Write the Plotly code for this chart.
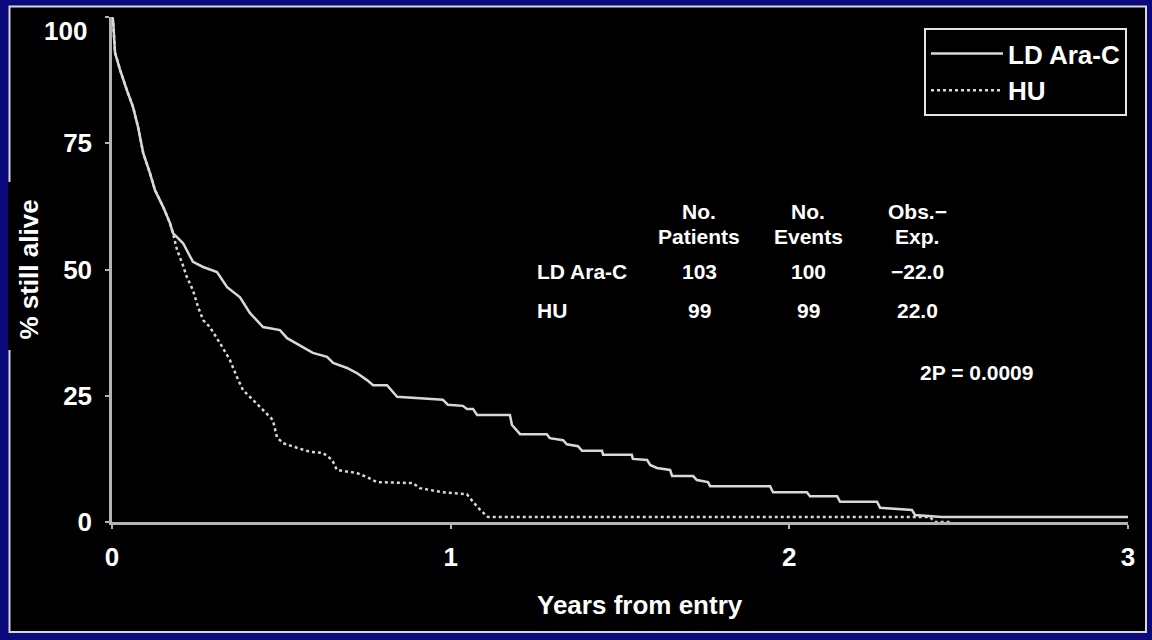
import plotly.graph_objects as go

# Kaplan-Meier style survival curves (years from entry, % still alive)
ld_years = [0.000, 0.003, 0.009, 0.024, 0.044, 0.062, 0.077, 0.092, 0.112, 0.127,
            0.151, 0.171, 0.180, 0.210, 0.239, 0.269, 0.310, 0.340, 0.378, 0.407,
            0.446, 0.496, 0.517, 0.555, 0.593, 0.635, 0.653, 0.694, 0.723, 0.753,
            0.771, 0.812, 0.842, 0.977, 0.992, 1.036, 1.048, 1.066, 1.078, 1.175,
            1.181, 1.205, 1.284, 1.293, 1.332, 1.343, 1.376, 1.388, 1.447, 1.450,
            1.535, 1.538, 1.580, 1.589, 1.609, 1.648, 1.654, 1.716, 1.727, 1.760,
            1.766, 1.943, 1.952, 2.052, 2.061, 2.141, 2.150, 2.259, 2.268, 2.362,
            2.371, 2.450, 3.000]
ld_alive = [100.0, 99.4, 92.9, 89.5, 85.5, 82.2, 78.2, 73.1, 69.1, 65.7,
            62.4, 59.2, 57.2, 55.2, 51.5, 50.5, 49.5, 46.5, 44.5, 41.4,
            38.6, 38.0, 36.4, 35.0, 33.5, 32.7, 31.5, 30.5, 29.5, 28.1,
            27.1, 27.1, 24.8, 24.2, 23.2, 23.0, 22.4, 22.4, 21.2, 21.2,
            19.2, 17.4, 17.4, 16.6, 16.2, 15.4, 15.0, 14.1, 14.1, 13.3,
            13.3, 12.5, 12.3, 11.3, 10.7, 10.3, 9.1, 9.1, 8.3, 7.9,
            7.1, 7.1, 5.9, 5.9, 5.1, 5.1, 4.0, 4.0, 2.8, 2.4,
            1.4, 1.0, 1.0]

hu_years = [0.000, 0.003, 0.009, 0.024, 0.044, 0.062, 0.077, 0.092, 0.112, 0.127,
            0.151, 0.171, 0.180, 0.192, 0.207, 0.221, 0.239, 0.254, 0.269, 0.289,
            0.319, 0.348, 0.369, 0.387, 0.416, 0.446, 0.475, 0.487, 0.505, 0.546,
            0.585, 0.623, 0.650, 0.664, 0.723, 0.753, 0.782, 0.889, 0.909, 0.977,
            1.048, 1.066, 1.087, 1.110, 2.415, 2.430, 2.480]
hu_alive = [100.0, 99.4, 92.9, 89.5, 85.5, 82.2, 78.2, 73.1, 69.1, 65.7,
            62.4, 59.2, 57.2, 53.9, 51.3, 48.5, 45.9, 42.6, 40.0, 38.6,
            35.4, 32.1, 28.7, 26.1, 24.2, 22.2, 20.2, 16.8, 15.6, 14.7,
            13.9, 13.7, 12.3, 10.3, 9.7, 8.9, 7.9, 7.7, 6.7, 5.9,
            5.5, 4.0, 2.4, 1.0, 1.0, 0.0, 0.0]

# Summary table
groups = ["LD Ara-C", "HU"]
n_patients = [103, 99]
n_events = [100, 99]
obs_minus_exp = [-22.0, 22.0]
p_value = "0.0009"

x_ticks = [0, 1, 2, 3]
y_ticks = [0, 25, 50, 75, 100]

W, H = 1152, 640
L, R, T, B = 112, 24, 17, 118
PW, PH = W - L - R, H - T - B

def paper_x(px):
    return (px - L) / PW

def paper_y(py):
    return (H - B - py) / PH

CURVE = "#d8d8d8"
AXIS = "#b4b4b4"
FONT = "Arial, Liberation Sans, sans-serif"
BIG = dict(size=26, color="white", family=FONT, weight="bold")

fig = go.Figure()
fig.add_trace(go.Scatter(x=ld_years, y=ld_alive, mode="lines", name="LD Ara-C",
                         line=dict(color=CURVE, width=2.5)))
fig.add_trace(go.Scatter(x=hu_years, y=hu_alive, mode="lines", name="HU",
                         line=dict(color=CURVE, width=2.5, dash="dot")))

fig.update_xaxes(range=[0, 3], tickvals=x_ticks, ticktext=[str(v) for v in x_ticks],
                 showgrid=False, zeroline=False, showline=True, linecolor=AXIS,
                 linewidth=2.5, ticks="outside", ticklen=4, tickwidth=2,
                 tickcolor=AXIS, ticklabelstandoff=6, tickfont=BIG)
fig.update_yaxes(range=[0, 100], tickvals=y_ticks,
                 ticktext=[str(v) if v != 100 else "" for v in y_ticks],
                 showgrid=False, zeroline=False, showline=True, linecolor=AXIS,
                 linewidth=2.5, ticks="outside", ticklen=4, tickwidth=2,
                 tickcolor=AXIS, ticklabelstandoff=8, tickfont=BIG,
                 title=dict(text="% still alive", standoff=18, font=BIG))

shapes = [
    # black slide panel with light border
    dict(type="rect", xref="paper", yref="paper", layer="below",
         x0=paper_x(9.5), x1=paper_x(1146), y0=paper_y(632), y1=paper_y(6.5),
         fillcolor="black", line=dict(color="#d8d8d8", width=2)),
    # dark strip behind the y-axis title
    dict(type="rect", xref="paper", yref="paper", layer="below",
         x0=paper_x(8), x1=paper_x(50), y0=paper_y(350), y1=paper_y(182),
         fillcolor="black", line=dict(width=0)),
]

annotations = []
txt = dict(size=21, color="white", family=FONT, weight="bold")

def add_text(text, px, py, anchor="center", font=txt):
    annotations.append(dict(text=text, xref="paper", yref="paper", x=paper_x(px),
                            y=paper_y(py), xanchor=anchor, yanchor="middle",
                            showarrow=False, font=font))

# y tick label for 100 sits a little below the top of the axis
add_text("100", 89, 31, anchor="right", font=BIG)
# x-axis title
add_text("Years from entry", 640, 605, font=BIG)

col_x = [699, 808, 917]
add_text("No.", col_x[0], 211)
add_text("Patients", col_x[0], 236)
add_text("No.", col_x[1], 211)
add_text("Events", col_x[1], 236)
add_text("Obs.\u2212", col_x[2], 211)
add_text("Exp.", col_x[2], 236)
row_y = [271, 310]
for g, n, e, d, ry in zip(groups, n_patients, n_events, obs_minus_exp, row_y):
    add_text(g, 535, ry, anchor="left")
    add_text(str(n), col_x[0], ry)
    add_text(str(e), col_x[1], ry)
    add_text(f"{d:.1f}".replace("-", "\u2212"), col_x[2], ry)
add_text(f"2P = {p_value}", 976, 372)

fig.update_layout(
    width=W, height=H, margin=dict(l=L, r=R, t=T, b=B),
    paper_bgcolor="#0b0a7c", plot_bgcolor="rgba(0,0,0,0)",
    font=dict(family=FONT, color="white"),
    shapes=shapes, annotations=annotations,
    showlegend=True,
    legend=dict(x=paper_x(924), y=paper_y(28), xanchor="left", yanchor="top",
                bgcolor="black", bordercolor="#e6e6e6", borderwidth=2,
                itemwidth=72, traceorder="normal", font=BIG),
)

fig.write_html("out.html")
